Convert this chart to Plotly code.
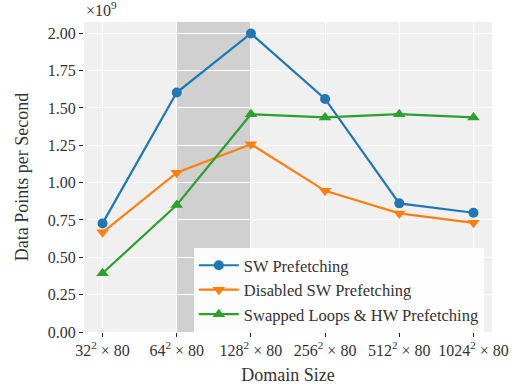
import plotly.graph_objects as go

# Domain sizes (N^2 x 80 grid points) and measured throughput in units of 1e9 points/s
domain_labels = ["32<sup>2</sup> × 80", "64<sup>2</sup> × 80", "128<sup>2</sup> × 80",
                 "256<sup>2</sup> × 80", "512<sup>2</sup> × 80", "1024<sup>2</sup> × 80"]
x_pos = [0, 1, 2, 3, 4, 5]

sw_prefetching = [0.727, 1.603, 1.998, 1.560, 0.861, 0.798]
disabled_sw_prefetching = [0.667, 1.066, 1.257, 0.945, 0.794, 0.731]
swapped_loops_hw = [0.393, 0.850, 1.458, 1.436, 1.458, 1.436]

y_ticks = [0.0, 0.25, 0.5, 0.75, 1.0, 1.25, 1.5, 1.75, 2.0]
y_tick_text = ["0.00", "0.25", "0.50", "0.75", "1.00", "1.25", "1.50", "1.75", "2.00"]

# Domain sizes highlighted as a shaded band
shade_start, shade_end = 1, 2

FONT = "Liberation Serif, DejaVu Serif, serif"
TXT = "#333333"

series = [
    ("SW Prefetching", sw_prefetching, "#1f77b4", "circle", 10),
    ("Disabled SW Prefetching", disabled_sw_prefetching, "#ff7f0e", "triangle-down", 11),
    ("Swapped Loops &amp; HW Prefetching", swapped_loops_hw, "#2ca02c", "triangle-up", 11),
]

fig = go.Figure()
for name, vals, color, symbol, size in series:
    fig.add_trace(go.Scatter(
        x=x_pos, y=vals, name=name, mode="lines+markers",
        line=dict(color=color, width=2.2),
        marker=dict(symbol=symbol, size=size, color=color),
    ))

fig.add_shape(type="rect", xref="x", yref="paper",
              x0=shade_start, x1=shade_end, y0=0, y1=1,
              fillcolor="#d0d0d0", line=dict(width=0), layer="below")

fig.add_annotation(text="×10<sup>9</sup>", xref="paper", yref="paper",
                   x=0.0, y=1.0, xanchor="left", yanchor="bottom", yshift=1,
                   showarrow=False, font=dict(family=FONT, size=16, color=TXT))

fig.update_layout(
    width=514, height=388,
    margin=dict(l=84, r=22, t=22, b=56),
    paper_bgcolor="white", plot_bgcolor="#f0f0f0",
    font=dict(family=FONT, size=16, color=TXT),
    showlegend=True,
    legend=dict(x=0.98, y=0.0, xanchor="right", yanchor="bottom",
                bgcolor="rgba(255,255,255,0.92)", borderwidth=0,
                font=dict(family=FONT, size=16.5, color=TXT),
                itemwidth=40, tracegroupgap=0),
)
fig.update_xaxes(
    range=[-0.25, 5.25], tickmode="array", tickvals=x_pos, ticktext=domain_labels,
    automargin=False,
    showgrid=True, gridcolor="white", gridwidth=1.2, zeroline=False,
    ticks="outside", ticklen=4, tickcolor="#222", tickwidth=1.2,
    tickfont=dict(family=FONT, size=16, color=TXT),
    title=dict(text="Domain Size", font=dict(family=FONT, size=18, color=TXT), standoff=10),
)
fig.update_yaxes(
    range=[0, 2.075], tickmode="array", tickvals=y_ticks, ticktext=y_tick_text,
    automargin=False,
    showgrid=True, gridcolor="white", gridwidth=1.2, zeroline=False,
    ticks="outside", ticklen=4, tickcolor="#222", tickwidth=1.2,
    tickfont=dict(family=FONT, size=16, color=TXT),
    title=dict(text="Data Points per Second", font=dict(family=FONT, size=18, color=TXT), standoff=14),
)

fig.write_html("out.html")
